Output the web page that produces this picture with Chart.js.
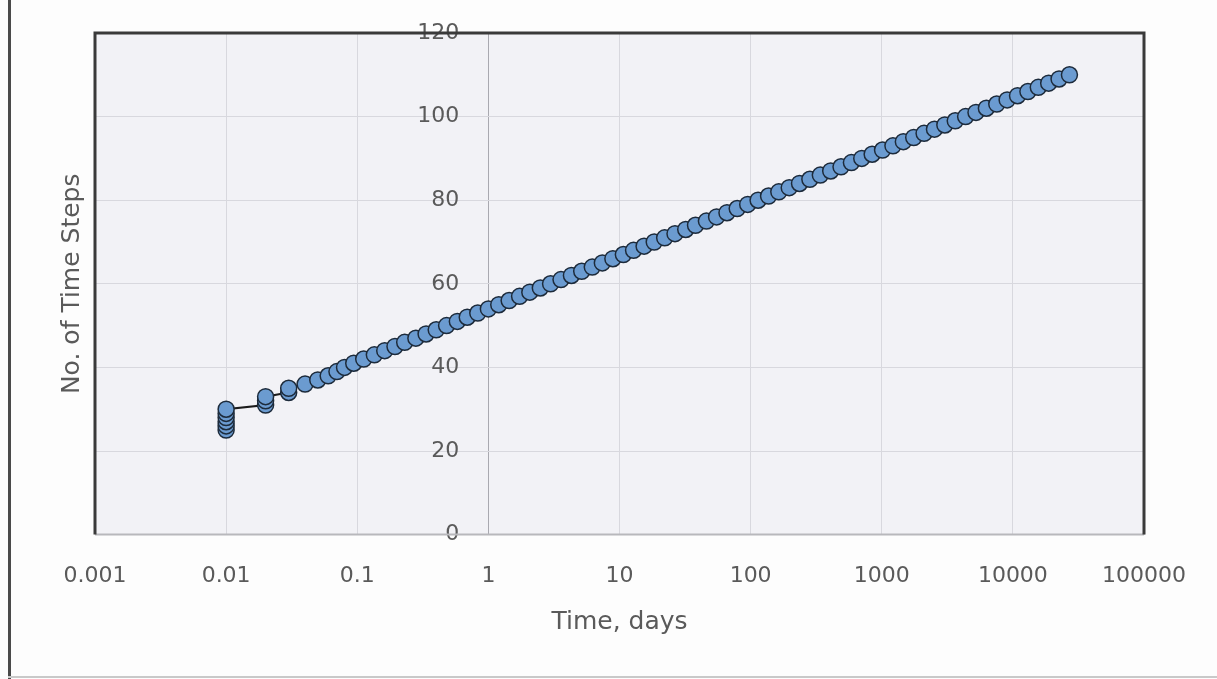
<!DOCTYPE html>
<html>
<head>
<meta charset="utf-8">
<script src="https://cdn.jsdelivr.net/npm/chart.js@4.4.0/dist/chart.umd.min.js"></script>
<style>
  html, body { margin: 0; padding: 0; background: #fdfdfd; }
  #wrap { width: 1217px; height: 679px; position: relative; }
</style>
</head>
<body>
<div id="wrap"><canvas id="c" width="1217" height="679"></canvas></div>
<script>
// ---- data ----
const timeDays = [
  0.01, 0.01, 0.01, 0.01, 0.01, 0.01,
  0.02, 0.02, 0.02,
  0.03, 0.03,
  0.04, 0.05, 0.06, 0.07, 0.08,
  0.094, 0.112, 0.135, 0.162, 0.194, 0.23, 0.28, 0.335, 0.40, 0.48,
  0.58, 0.69, 0.83, 1.0, 1.2, 1.44, 1.73, 2.07, 2.49, 2.98,
  3.58, 4.3, 5.15, 6.2, 7.4, 8.9, 10.7, 12.8, 15.4, 18.4,
  22.1, 26.5, 32, 38, 46, 55, 66, 79, 95, 114,
  137, 164, 197, 236, 283, 340, 408, 489, 587, 704,
  845, 1014, 1217, 1461, 1753, 2103, 2524, 3028, 3634, 4361,
  5233, 6279, 7535, 9042, 10851, 13021, 15625, 18750, 22500, 27000
];
const timeSteps = [
  25, 26, 27, 28, 29, 30,
  31, 32, 33,
  34, 35,
  36, 37, 38, 39, 40,
  41, 42, 43, 44, 45, 46, 47, 48, 49, 50,
  51, 52, 53, 54, 55, 56, 57, 58, 59, 60,
  61, 62, 63, 64, 65, 66, 67, 68, 69, 70,
  71, 72, 73, 74, 75, 76, 77, 78, 79, 80,
  81, 82, 83, 84, 85, 86, 87, 88, 89, 90,
  91, 92, 93, 94, 95, 96, 97, 98, 99, 100,
  101, 102, 103, 104, 105, 106, 107, 108, 109, 110
];
const xTickValues = [0.001, 0.01, 0.1, 1, 10, 100, 1000, 10000, 100000];
const xTickLabels = ['0.001', '0.01', '0.1', '1', '10', '100', '1000', '10000', '100000'];
const yTickValues = [0, 20, 40, 60, 80, 100, 120];
const xTitle = 'Time, days';
const yTitle = 'No. of Time Steps';

const points = timeDays.map((t, i) => ({ x: t, y: timeSteps[i] }));

const TEXT = '#5a5a5a';
const GRID = '#d8d8de';

const decor = {
  id: 'decor',
  beforeDraw(chart) {
    const { ctx, chartArea: a } = chart;
    ctx.save();
    ctx.fillStyle = '#fdfdfd';
    ctx.fillRect(0, 0, chart.width, chart.height);
    ctx.fillStyle = '#f2f2f6';
    ctx.fillRect(a.left, a.top, a.right - a.left, a.bottom - a.top);
    // outer frame pieces
    ctx.fillStyle = '#4a4a4a';
    ctx.fillRect(8, 0, 3, chart.height);
    ctx.fillStyle = '#c9c9c9';
    ctx.fillRect(8, chart.height - 3, chart.width - 8, 2);
    ctx.restore();
  },
  afterDraw(chart) {
    const { ctx, chartArea: a } = chart;
    ctx.save();
    ctx.strokeStyle = '#b8b8bc';
    ctx.lineWidth = 2;
    ctx.beginPath();
    ctx.moveTo(a.left, a.bottom);
    ctx.lineTo(a.right, a.bottom);
    ctx.stroke();
    ctx.strokeStyle = '#3a3a3a';
    ctx.lineWidth = 3;
    ctx.beginPath();
    ctx.moveTo(a.left, a.bottom);
    ctx.lineTo(a.left, a.top);
    ctx.lineTo(a.right, a.top);
    ctx.lineTo(a.right, a.bottom);
    ctx.stroke();
    ctx.restore();
  }
};

new Chart(document.getElementById('c'), {
  type: 'scatter',
  data: {
    datasets: [{
      data: points,
      showLine: true,
      borderColor: '#1b1b1b',
      borderWidth: 2,
      pointRadius: 8,
      pointHoverRadius: 8,
      pointBackgroundColor: '#6b9bd0',
      pointBorderColor: '#1d2b3b',
      pointBorderWidth: 1.5,
      tension: 0
    }]
  },
  options: {
    responsive: false,
    animation: false,
    events: [],
    layout: { padding: { left: 57, right: 73, top: 33, bottom: 42 } },
    plugins: { legend: { display: false }, tooltip: { enabled: false } },
    scales: {
      x: {
        type: 'logarithmic',
        min: 0.001,
        max: 100000,
        afterBuildTicks(scale) {
          scale.ticks = xTickValues.map(v => ({ value: v, major: true }));
        },
        ticks: {
          color: TEXT,
          font: { family: 'DejaVu Sans', size: 22 },
          padding: 28,
          autoSkip: false,
          maxRotation: 0,
          callback: (v, i) => xTickLabels[i]
        },
        grid: {
          color: ctx => (ctx.tick && ctx.tick.value === 1) ? '#a9a9b0' : GRID,
          lineWidth: 1,
          drawTicks: false
        },
        border: { display: false },
        title: {
          display: true,
          text: xTitle,
          color: TEXT,
          font: { family: 'DejaVu Sans', size: 25 },
          padding: { top: -10, bottom: 0 }
        }
      },
      y: {
        type: 'linear',
        position: { x: 0.6 },
        min: 0,
        max: 120,
        afterBuildTicks(scale) {
          scale.ticks = yTickValues.map(v => ({ value: v }));
        },
        ticks: {
          color: TEXT,
          font: { family: 'DejaVu Sans', size: 22 },
          padding: 0
        },
        grid: { color: GRID, lineWidth: 1, drawTicks: false },
        border: { display: false }
      },
      yTitle: {
        type: 'linear',
        position: 'left',
        min: 0,
        max: 120,
        ticks: { display: false },
        grid: { display: false, drawTicks: false },
        border: { display: false },
        title: {
          display: true,
          text: yTitle,
          color: TEXT,
          font: { family: 'DejaVu Sans', size: 25 },
          padding: { top: 0, bottom: 8 }
        }
      }
    }
  },
  plugins: [decor]
});
</script>
</body>
</html>
